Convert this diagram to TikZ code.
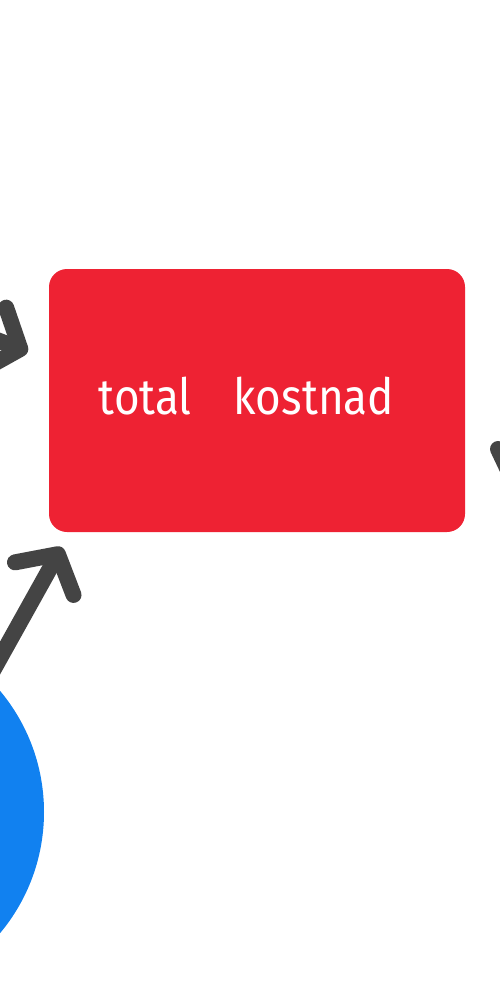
\documentclass[tikz,border=0pt]{standalone}
\usepackage{fontspec}
\newfontfamily\kostfont[FakeStretch=0.88]{Fira Sans}
\usetikzlibrary{arrows.meta}
\definecolor{kostred}{RGB}{238,34,51}
\definecolor{arrowgray}{RGB}{68,68,68}
\definecolor{ballblue}{RGB}{17,129,240}

\begin{document}
\begin{tikzpicture}[
            x=1pt, y=-1pt,
            box/.style={fill=kostred, rounded corners=18pt, minimum width=416pt, minimum height=263pt, inner sep=0pt},
            boxtext/.style={text=white, inner sep=0pt, font=\kostfont\fontsize{50}{60}\selectfont},
            ball/.style={circle, fill=ballblue, minimum size=378pt, inner sep=0pt},
            flow/.style={draw=arrowgray, line width=16pt, line cap=round, -{Straight Barb[length=28pt 0, width=67pt 0, round]}}
            ]
        \useasboundingbox (0,0) rectangle (500,1000);
        \clip (0,0) rectangle (500,1000);
        \node[ball] (ball) at (-145,812) {};
        \node[box] (cost) at (257,400.5) {};
        \node[boxtext] (costlabel) at ([xshift=-10.5pt, yshift=4pt]cost.center) {total\hspace{42pt}kostnad};
        \coordinate (lefttail) at (-84,309);
        \coordinate (righttail) at (498,449);
        \coordinate (rightend) at (560,580);
        \draw[flow] (lefttail) -- ([shift={(-21,83)}]cost.north west);
        \draw[flow] (ball.45) -- ([shift={(13,15)}]cost.south west);
        \draw[flow] (righttail) -- (rightend);
        \end{tikzpicture}
\end{document}
